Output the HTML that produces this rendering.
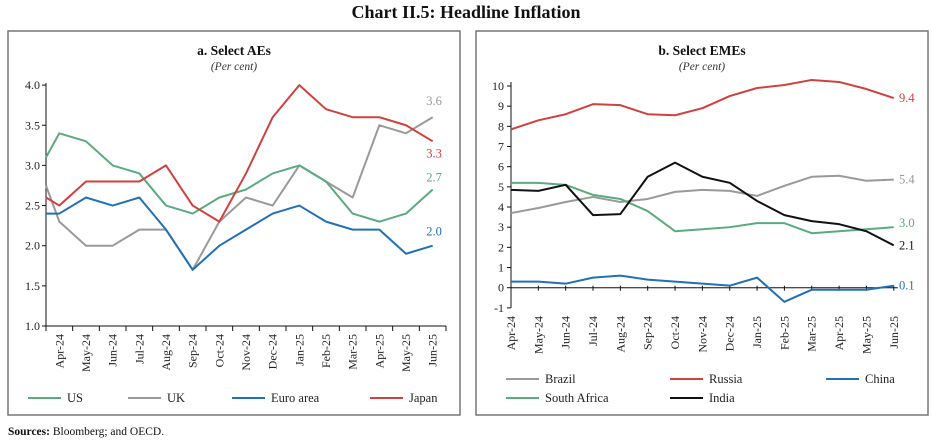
<!DOCTYPE html>
<html><head><meta charset="utf-8"><style>
body{margin:0;background:#fff;width:932px;height:441px;overflow:hidden;font-family:"Liberation Serif",serif}
svg text{font-family:"Liberation Serif",serif}
</style></head><body>
<svg id="c" width="932" height="441" xmlns="http://www.w3.org/2000/svg">
<text x="466" y="18" text-anchor="middle" font-size="18" font-weight="bold" fill="#111">Chart II.5: Headline Inflation</text>
<rect x="8" y="31" width="452" height="384" fill="none" stroke="#777" stroke-width="1.5"/>
<rect x="476" y="31" width="452" height="384" fill="none" stroke="#777" stroke-width="1.5"/>
<text x="234" y="55" text-anchor="middle" font-size="13.5" font-weight="bold" fill="#111">a. Select AEs</text>
<text x="234" y="70" text-anchor="middle" font-size="11.5" font-style="italic" fill="#333">(Per cent)</text>
<text x="702" y="55" text-anchor="middle" font-size="13.5" font-weight="bold" fill="#111">b. Select EMEs</text>
<text x="702" y="70" text-anchor="middle" font-size="11.5" font-style="italic" fill="#333">(Per cent)</text>
<text x="8" y="435" font-size="11.5" fill="#111"><tspan font-weight="bold">Sources:</tspan> Bloomberg; and OECD.</text>
<g id="ga"></g><g id="gb"></g>
</svg>
<script>
const months = ["Apr-24","May-24","Jun-24","Jul-24","Aug-24","Sep-24","Oct-24","Nov-24","Dec-24","Jan-25","Feb-25","Mar-25","Apr-25","May-25","Jun-25"];
const aTicks = [1.0,1.5,2.0,2.5,3.0,3.5,4.0];
const bTicks = [-1,0,1,2,3,4,5,6,7,8,9,10];
// panel a: first value is Mar-24 (plotted at axis), then Apr-24..Jun-25
const usVals = [3.1,3.4,3.3,3.0,2.9,2.5,2.4,2.6,2.7,2.9,3.0,2.8,2.4,2.3,2.4,2.7];
const ukVals = [2.75,2.3,2.0,2.0,2.2,2.2,1.7,2.3,2.6,2.5,3.0,2.8,2.6,3.5,3.4,3.6];
const euroVals = [2.4,2.4,2.6,2.5,2.6,2.2,1.7,2.0,2.2,2.4,2.5,2.3,2.2,2.2,1.9,2.0];
const japanVals = [2.6,2.5,2.8,2.8,2.8,3.0,2.5,2.3,2.9,3.6,4.0,3.7,3.6,3.6,3.5,3.3];
// panel b
const brazilVals = [3.7,3.95,4.25,4.5,4.25,4.4,4.75,4.85,4.8,4.55,5.05,5.5,5.55,5.3,5.36];
const russiaVals = [7.85,8.3,8.6,9.1,9.05,8.6,8.55,8.9,9.5,9.9,10.05,10.3,10.2,9.85,9.4];
const chinaVals = [0.3,0.3,0.2,0.5,0.6,0.4,0.3,0.2,0.1,0.5,-0.7,-0.1,-0.1,-0.1,0.1];
const safricaVals = [5.2,5.2,5.1,4.6,4.4,3.8,2.8,2.9,3.0,3.2,3.2,2.7,2.8,2.9,3.0];
const indiaVals = [4.85,4.8,5.1,3.6,3.65,5.5,6.2,5.5,5.2,4.3,3.6,3.3,3.15,2.8,2.1];

const NS="http://www.w3.org/2000/svg";
function mk(p,t,a){const e=document.createElementNS(NS,t);for(const k in a)e.setAttribute(k,a[k]);p.appendChild(e);return e;}
const C={green:"#5aab7d",gray:"#9a9a9a",blue:"#2270b5",red:"#d0413f",black:"#111"};

// Panel A
const ga=document.getElementById('ga');
const aL=46,aR=446,aBand=(aR-aL)/15;
const ay=v=>326-(v-1.0)*80.3;
const axA=i=>i===0?aL:aL+aBand*(i-0.5);
let e=mk(ga,'line',{x1:aL,y1:83,x2:aL,y2:326,stroke:'#111','stroke-width':1});

e=mk(ga,'line',{x1:aL,y1:326,x2:aR,y2:326,stroke:'#111','stroke-width':1});

aTicks.forEach(v=>{mk(ga,'line',{x1:aL-4,y1:ay(v),x2:aL,y2:ay(v),stroke:'#111'});
 const t=mk(ga,'text',{x:aL-6,y:ay(v)+4,'text-anchor':'end','font-size':12,fill:'#222'});t.textContent=v.toFixed(1);
 });
for(let i=0;i<=15;i++)mk(ga,'line',{x1:aL+aBand*i,y1:326,x2:aL+aBand*i,y2:331,stroke:'#111'});
months.forEach((m,i)=>{const x=aL+aBand*(i+0.5);const t=mk(ga,'text',{x:0,y:0,'text-anchor':'end','font-size':12,fill:'#222',transform:`translate(${x+4},334) rotate(-90)`});t.textContent=m;
 });
function lineA(vals,col,name,lab,ly){const p=mk(ga,'polyline',{points:vals.map((v,i)=>axA(i)+','+ay(v)).join(' '),fill:'none',stroke:col,'stroke-width':2,'stroke-linejoin':'round'});
 
 const t=mk(ga,'text',{x:434,y:ay(vals[vals.length-1])+ly,'text-anchor':'middle','font-size':12.5,fill:col});t.textContent=vals[vals.length-1].toFixed(1);
 }
lineA(ukVals,C.gray,'uk-line',1,-12);lineA(usVals,C.green,'us-line',1,-8);lineA(euroVals,C.blue,'euro-area-line',1,-10);lineA(japanVals,C.red,'japan-line',1,16);

function legend(g,x,y,col,label,name){const l=mk(g,'line',{x1:x,y1:y,x2:x+33,y2:y,stroke:col,'stroke-width':2});
 const t=mk(g,'text',{x:x+39,y:y+4,'font-size':12.5,fill:'#222'});t.textContent=label;
 
 }
legend(ga,28,398,C.green,'US','legend-us');legend(ga,128,398,C.gray,'UK','legend-uk');
legend(ga,232,398,C.blue,'Euro area','legend-euro-area');legend(ga,370,398,C.red,'Japan','legend-japan');

// Panel B
const gb=document.getElementById('gb');
const bL=511,bStep=27.34;
const by=v=>287.7-v*20.17;
const bx=i=>bL+bStep*i;
e=mk(gb,'line',{x1:bL,y1:82,x2:bL,y2:by(-1),stroke:'#111'});

e=mk(gb,'line',{x1:bL,y1:by(0),x2:bx(14)+4,y2:by(0),stroke:'#111'});

bTicks.forEach(v=>{mk(gb,'line',{x1:bL-4,y1:by(v),x2:bL,y2:by(v),stroke:'#111'});
 const t=mk(gb,'text',{x:bL-7,y:by(v)+4,'text-anchor':'end','font-size':12,fill:'#222'});t.textContent=v;
 });
months.forEach((m,i)=>{mk(gb,'line',{x1:bx(i),y1:by(0)-2,x2:bx(i),y2:by(0)+3,stroke:'#111'});
 const t=mk(gb,'text',{x:0,y:0,'text-anchor':'end','font-size':12,fill:'#222',transform:`translate(${bx(i)+4},316) rotate(-90)`});t.textContent=m;
 });
function lineB(vals,col,name,ly){const p=mk(gb,'polyline',{points:vals.map((v,i)=>bx(i)+','+by(v)).join(' '),fill:'none',stroke:col,'stroke-width':2,'stroke-linejoin':'round'});
 
 const t=mk(gb,'text',{x:899,y:by(vals[vals.length-1])+ly,'font-size':12.5,fill:col});t.textContent=vals[vals.length-1].toFixed(1);
 }
lineB(brazilVals,C.gray,'brazil-line',4);lineB(safricaVals,C.green,'south-africa-line',0);
lineB(indiaVals,C.black,'india-line',4);lineB(chinaVals,C.blue,'china-line',4);lineB(russiaVals,C.red,'russia-line',4);
legend(gb,506,379,C.gray,'Brazil','legend-brazil');legend(gb,670,379,C.red,'Russia','legend-russia');
legend(gb,826,379,C.blue,'China','legend-china');legend(gb,506,398,C.green,'South Africa','legend-south-africa');
legend(gb,670,398,C.black,'India','legend-india');
</script>
</body></html>
